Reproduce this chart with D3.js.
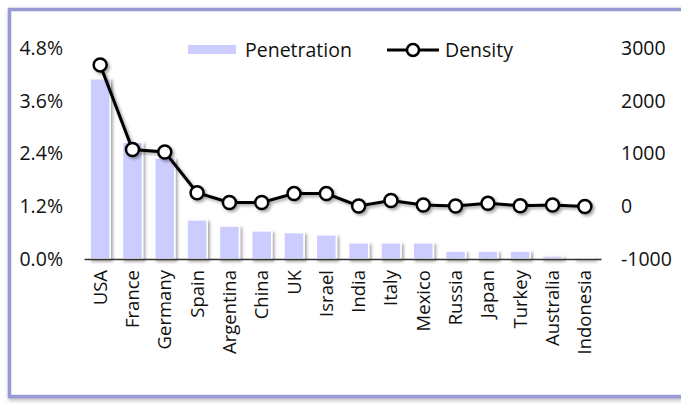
<!DOCTYPE html>
<html><head><meta charset="utf-8">
<script src="https://cdn.jsdelivr.net/npm/d3@7"></script>
<style>body{margin:0;background:#fff}svg{display:block}text{font-family:"Open Sans",sans-serif;fill:#111}</style>
</head><body><svg id="c" width="681" height="404"></svg>
<script>
const categories = ["USA","France","Germany","Spain","Argentina","China","UK","Israel","India","Italy","Mexico","Russia","Japan","Turkey","Australia","Indonesia"];
const penetration = [4.1,2.66,2.3,0.89,0.75,0.64,0.6,0.55,0.37,0.37,0.37,0.18,0.18,0.18,0.07,0.02];
const density = [2680,1075,1030,255,70,70,240,240,5,110,25,5,55,10,25,-5];
const leftTicks = [0,1.2,2.4,3.6,4.8];
const rightTicks = [-1000,0,1000,2000,3000];

const FS = 19.5;
const svg = d3.select("#c");
const defs = svg.append("defs");
const f = defs.append("filter").attr("id","sh").attr("x","-20%").attr("y","-20%").attr("width","150%").attr("height","150%");
f.append("feDropShadow").attr("dx",2).attr("dy",2).attr("stdDeviation",1.6).attr("flood-color","#000").attr("flood-opacity",0.35);
const f2 = defs.append("filter").attr("id","fsh").attr("x","-5%").attr("y","-5%").attr("width","110%").attr("height","110%");
f2.append("feDropShadow").attr("dx",1).attr("dy",2).attr("stdDeviation",2).attr("flood-color","#666").attr("flood-opacity",0.5);

svg.append("rect").attr("x",9.5).attr("y",9.5).attr("width",690).attr("height",387)
  .attr("fill","#fff").attr("stroke","#9999d6").attr("stroke-width",3.5).attr("filter","url(#fsh)");

const x = d3.scaleBand().domain(categories).range([84,601]).paddingInner(0.38).paddingOuter(0.19);
const yL = d3.scaleLinear().domain([0,4.8]).range([259,48]);
const yR = d3.scaleLinear().domain([-1000,3000]).range([259,48]);

const gL = svg.append("g").attr("transform","translate(63,0)")
  .call(d3.axisLeft(yL).tickValues(leftTicks).tickSize(0).tickPadding(0).tickFormat(d=>d.toFixed(1)+"%"));
gL.select(".domain").remove();
gL.selectAll("text").attr("font-size",FS).attr("fill","#111").style("font-family","'Open Sans',sans-serif");

const gR = svg.append("g").attr("transform","translate(621,0)")
  .call(d3.axisRight(yR).tickValues(rightTicks).tickSize(0).tickPadding(0).tickFormat(d=>String(d)));
gR.select(".domain").remove();
gR.selectAll("text").attr("font-size",FS).attr("fill","#111").style("font-family","'Open Sans',sans-serif");

svg.append("g").attr("filter","url(#sh)").selectAll("rect").data(categories).join("rect")
  .attr("x",d=>x(d)).attr("width",x.bandwidth())
  .attr("y",(d,i)=>yL(penetration[i])).attr("height",(d,i)=>yL(0)-yL(penetration[i]))
  .attr("fill","#ccccff").attr("stroke","#fff").attr("stroke-width",1.5);

const gX = svg.append("g").attr("transform","translate(0,259)")
  .call(d3.axisBottom(x).tickSize(0).tickPadding(0));
gX.select(".domain").attr("stroke","#333").attr("stroke-width",1.5);
gX.selectAll("text").attr("font-size",18.5).attr("fill","#111").style("font-family","'Open Sans',sans-serif")
  .attr("transform","rotate(-90)").attr("text-anchor","end").attr("x",-11).attr("y",0).attr("dy","0.35em");

const pts = categories.map((c,i)=>[x(c)+x.bandwidth()/2, yR(density[i])]);
const gLine = svg.append("g").attr("filter","url(#sh)");
gLine.append("path").attr("d",d3.line()(pts)).attr("fill","none").attr("stroke","#000").attr("stroke-width",3);
gLine.selectAll("circle").data(pts).join("circle").attr("cx",d=>d[0]).attr("cy",d=>d[1]).attr("r",6.5)
  .attr("fill","#fff").attr("stroke","#000").attr("stroke-width",2.5);

const lg = svg.append("g");
lg.append("rect").attr("x",188).attr("y",45).attr("width",48).attr("height",9).attr("fill","#ccccff");
lg.append("text").attr("x",245).attr("y",50).attr("dy","0.35em").attr("font-size",FS).text("Penetration");
lg.append("line").attr("x1",387).attr("x2",439).attr("y1",50).attr("y2",50).attr("stroke","#000").attr("stroke-width",3);
lg.append("circle").attr("cx",413).attr("cy",50).attr("r",6).attr("fill","#fff").attr("stroke","#000").attr("stroke-width",2.5);
lg.append("text").attr("x",445).attr("y",50).attr("dy","0.35em").attr("font-size",FS).text("Density");
</script></body></html>
